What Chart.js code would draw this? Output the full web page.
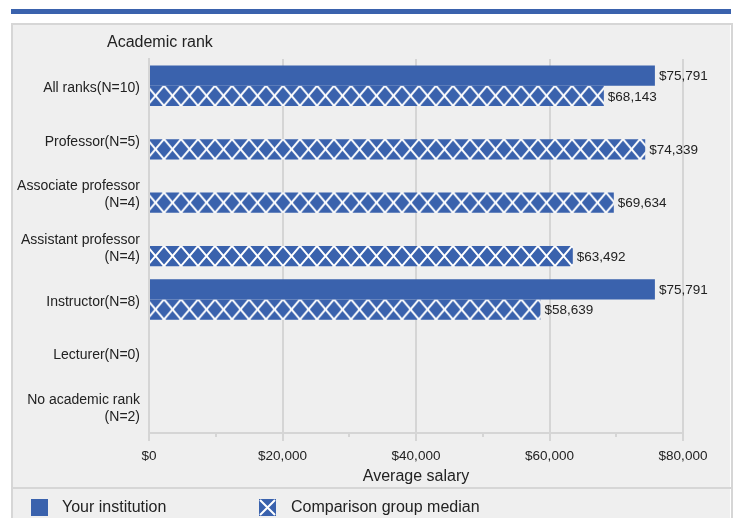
<!DOCTYPE html>
<html>
<head>
<meta charset="utf-8">
<script src="https://cdn.jsdelivr.net/npm/chart.js@4.4.1/dist/chart.umd.min.js"></script>
<style>
  html, body { margin: 0; padding: 0; background: #fff; overflow: hidden; }
  #wrap { width: 735px; height: 518px; }
</style>
</head>
<body>
<div id="wrap"><canvas id="salaryChart" width="735" height="518"></canvas></div>
<script>
// chart data
const ranks = [
    'All ranks(N=10)',
    'Professor(N=5)',
    ['Associate professor', '(N=4)'],
    ['Assistant professor', '(N=4)'],
    'Instructor(N=8)',
    'Lecturer(N=0)',
    ['No academic rank', '(N=2)']
];
const yourInstitution = [75791, null, null, null, 75791, null, null];
const comparisonMedian = [68143, 74339, 69634, 63492, 58639, null, null];
const seriesNames = ['Your institution', 'Comparison group median'];
const xTicks = [0, 20000, 40000, 60000, 80000];
const xMinorTicks = [10000, 30000, 50000, 70000];
const yTitle = 'Academic rank';
const xTitle = 'Average salary';

const BLUE = '#3a62ad';
const GRID = '#d5d5d5';
const TEXT = '#222';
const FONT = '"Liberation Sans", Arial, sans-serif';

Chart.defaults.font.family = FONT;
Chart.defaults.color = TEXT;

function money(v) {
    return '$' + v.toLocaleString('en-US');
}

// white X cross-hatch tile over blue
function makeTile() {
    const c = document.createElement('canvas');
    c.width = 17;
    c.height = 20;
    const g = c.getContext('2d');
    g.fillStyle = BLUE;
    g.fillRect(0, 0, 17, 20);
    g.strokeStyle = '#fff';
    g.lineWidth = 2;
    [-17, 0, 17].forEach(dx => {
        g.beginPath();
        g.moveTo(dx, 0); g.lineTo(dx + 17, 20);
        g.moveTo(dx + 17, 0); g.lineTo(dx, 20);
        g.stroke();
    });
    return c;
}
const tile = makeTile();

function hatchFill(context) {
    const chart = context.chart;
    const pattern = chart.ctx.createPattern(tile, 'repeat');
    const yScale = chart.scales.y;
    if (yScale && context.dataIndex !== undefined) {
        // line the tile up with the top of each bar
        const top = yScale.getPixelForValue(context.dataIndex);
        pattern.setTransform(new DOMMatrix().translate(147, top));
    }
    return pattern;
}

const framePlugin = {
    id: 'frame',
    beforeDraw(chart) {
        const ctx = chart.ctx;
        ctx.save();
        ctx.fillStyle = '#fff';
        ctx.fillRect(0, 0, chart.width, chart.height);
        ctx.fillStyle = BLUE;
        ctx.fillRect(11, 9, 720, 5);
        ctx.fillStyle = '#efefef';
        ctx.fillRect(12, 24, 718, 500);
        ctx.strokeStyle = '#d6d6d6';
        ctx.lineWidth = 2;
        ctx.strokeRect(12, 24, 720, 510);
        ctx.fillStyle = TEXT;
        ctx.font = '16px ' + FONT;
        ctx.textBaseline = 'middle';
        ctx.fillText(yTitle, 107, 43);
        ctx.restore();
    },
    afterDraw(chart) {
        const ctx = chart.ctx;
        const x = chart.scales.x;
        ctx.save();
        // minor ticks under the axis
        ctx.strokeStyle = GRID;
        ctx.lineWidth = 2;
        xMinorTicks.forEach(v => {
            const px = Math.round(x.getPixelForValue(v));
            ctx.beginPath();
            ctx.moveTo(px, chart.chartArea.bottom);
            ctx.lineTo(px, chart.chartArea.bottom + 4);
            ctx.stroke();
        });
        // legend strip
        ctx.strokeStyle = '#d6d6d6';
        ctx.beginPath();
        ctx.moveTo(11, 488);
        ctx.lineTo(732, 488);
        ctx.stroke();
        const boxX = [31, 259];
        const textX = [62, 291];
        ctx.font = '16px ' + FONT;
        ctx.textBaseline = 'middle';
        chart.data.datasets.forEach((ds, i) => {
            ctx.fillStyle = BLUE;
            ctx.fillRect(boxX[i], 499, 17, 17);
            if (i === 1) {
                ctx.strokeStyle = '#fff';
                ctx.lineWidth = 2;
                ctx.beginPath();
                ctx.moveTo(boxX[i] + 1, 500); ctx.lineTo(boxX[i] + 16, 515);
                ctx.moveTo(boxX[i] + 16, 500); ctx.lineTo(boxX[i] + 1, 515);
                ctx.stroke();
            }
            ctx.fillStyle = TEXT;
            ctx.fillText(ds.label, textX[i], 508);
        });
        ctx.restore();
    }
};

const valueLabels = {
    id: 'valueLabels',
    afterDatasetsDraw(chart) {
        const ctx = chart.ctx;
        ctx.save();
        ctx.font = '13.5px ' + FONT;
        ctx.fillStyle = TEXT;
        ctx.textBaseline = 'middle';
        chart.data.datasets.forEach((ds, i) => {
            chart.getDatasetMeta(i).data.forEach((bar, j) => {
                const v = ds.data[j];
                if (v == null) return;
                ctx.fillText(money(v), bar.x + 4, bar.y + 1);
            });
        });
        ctx.restore();
    }
};

new Chart(document.getElementById('salaryChart'), {
    type: 'bar',
    data: {
        labels: ranks,
        datasets: [{
            label: seriesNames[0],
            data: yourInstitution,
            backgroundColor: BLUE,
            borderWidth: 0
        }, {
            label: seriesNames[1],
            data: comparisonMedian,
            backgroundColor: hatchFill,
            borderWidth: 0
        }]
    },
    options: {
        indexAxis: 'y',
        responsive: false,
        animation: false,
        events: [],
        datasets: {
            bar: { categoryPercentage: 0.76, barPercentage: 1 }
        },
        layout: {
            padding: { top: 59, left: 11, right: 52, bottom: 30 }
        },
        plugins: {
            legend: { display: false },
            tooltip: { enabled: false }
        },
        scales: {
            x: {
                min: 0,
                max: 80000,
                afterBuildTicks: s => { s.ticks = xTicks.map(v => ({ value: v })); },
                afterFit: s => { s.height = 55; },
                grid: { color: GRID, lineWidth: 2, tickLength: 8 },
                border: { color: GRID, width: 2 },
                ticks: {
                    padding: 7,
                    font: { size: 13.5 },
                    color: TEXT,
                    callback: v => money(v)
                },
                title: {
                    display: true,
                    text: xTitle,
                    font: { size: 16 },
                    color: TEXT,
                    padding: { top: 0, bottom: 2 }
                }
            },
            y: {
                afterFit: s => { s.width = 138; },
                grid: { drawOnChartArea: false, drawTicks: false },
                border: { color: GRID, width: 2 },
                ticks: {
                    autoSkip: false,
                    padding: 9,
                    labelOffset: 2.5,
                    font: { size: 14, lineHeight: 1.22 },
                    color: TEXT
                }
            }
        }
    },
    plugins: [framePlugin, valueLabels]
});
</script>
</body>
</html>
